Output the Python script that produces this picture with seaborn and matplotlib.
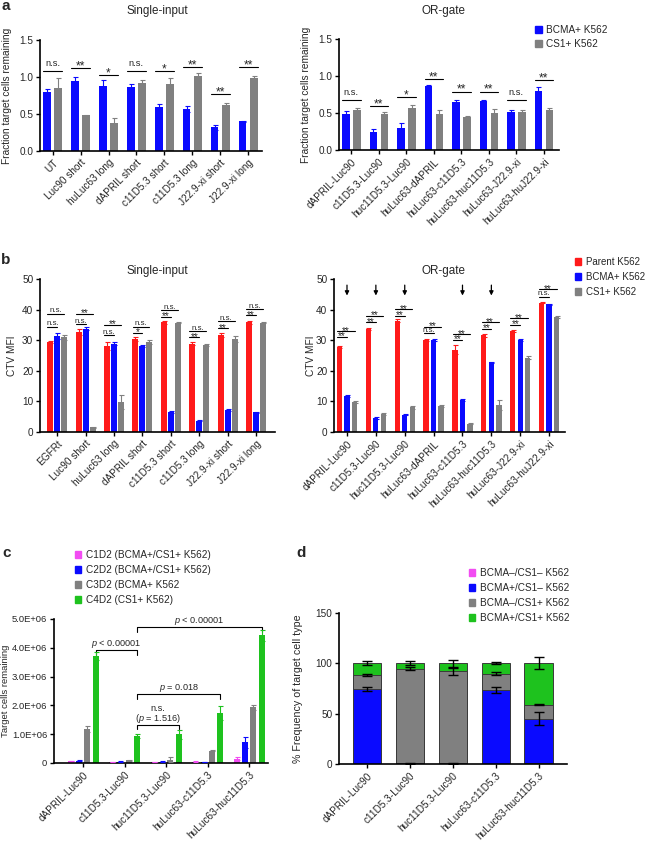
import numpy as np
import pandas as pd
import matplotlib
matplotlib.use("Agg")
import matplotlib.pyplot as plt
import seaborn as sns
from matplotlib.patches import Patch

sns.set_style("ticks")
plt.rcParams["font.family"] = ["Liberation Sans", "DejaVu Sans"]
plt.rcParams["mathtext.fontset"] = "custom"
plt.rcParams["mathtext.it"] = "Liberation Sans:italic"
plt.rcParams["mathtext.rm"] = "Liberation Sans"

# ---------------- data ----------------
BLUE, GRAY, RED, GREEN, MAGENTA = "#0a0aff", "#808080", "#ff1a1a", "#1ec21e", "#f24cf2"

# panel a, single-input
a1_cats = ["UT", "Luc90 short", "huLuc63 long", "dAPRIL short", "c11D5.3 short",
           "c11D5.3 long", "J22.9-xi short", "J22.9-xi long"]
a1_bcma = [0.80, 0.94, 0.88, 0.86, 0.60, 0.57, 0.32, 0.40]
a1_bcma_err = [0.04, 0.06, 0.08, 0.05, 0.03, 0.04, 0.03, 0.01]
a1_cs1 = [0.85, 0.48, 0.38, 0.92, 0.90, 1.01, 0.62, 0.99]
a1_cs1_err = [0.13, 0.01, 0.06, 0.04, 0.08, 0.04, 0.03, 0.03]
a1_sig = ["n.s.", "**", "*", "n.s.", "*", "**", "**", "**"]
a1_sig_y = [1.08, 1.12, 1.03, 1.08, 1.08, 1.13, 0.77, 1.13]

# panel a, OR-gate
a2_cats = ["dAPRIL-Luc90", "c11D5.3-Luc90", "huc11D5.3-Luc90", "huLuc63-dAPRIL",
           "huLuc63-c11D5.3", "huLuc63-huc11D5.3", "huLuc63-J22.9-xi", "huLuc63-huJ22.9-xi"]
a2_bcma = [0.48, 0.24, 0.30, 0.87, 0.65, 0.66, 0.51, 0.80]
a2_bcma_err = [0.05, 0.05, 0.06, 0.01, 0.02, 0.02, 0.03, 0.05]
a2_cs1 = [0.54, 0.49, 0.57, 0.49, 0.45, 0.50, 0.51, 0.54]
a2_cs1_err = [0.03, 0.02, 0.04, 0.05, 0.01, 0.06, 0.03, 0.03]
a2_sig = ["n.s.", "**", "*", "**", "**", "**", "n.s.", "**"]
a2_sig_y = [0.68, 0.59, 0.71, 0.96, 0.79, 0.79, 0.68, 0.95]

# panel b, single-input
b1_cats = ["EGFRt", "Luc90 short", "huLuc63 long", "dAPRIL short", "c11D5.3 short",
           "c11D5.3 long", "J22.9-xi short", "J22.9-xi long"]
b1_parent = [29.4, 32.7, 28.2, 30.5, 35.9, 28.9, 31.7, 35.9]
b1_parent_err = [0.4, 1.0, 1.3, 0.7, 0.5, 0.6, 0.8, 0.5]
b1_bcma = [31.3, 33.8, 28.9, 28.0, 6.4, 3.7, 7.2, 6.4]
b1_bcma_err = [1.0, 0.6, 0.5, 0.3, 0.3, 0.2, 0.2, 0.2]
b1_cs1 = [31.0, 1.5, 9.8, 29.4, 35.7, 28.4, 30.4, 35.7]
b1_cs1_err = [0.8, 0.2, 2.3, 0.6, 0.2, 0.3, 1.0, 0.2]
b1_sig_up = ["n.s.", "**", "**", "n.s.", "n.s.", "n.s.", "n.s.", "n.s."]
b1_sig_up_y = [38.6, 38.6, 35.0, 34.4, 39.9, 33.0, 36.3, 40.2]
b1_sig_lo = ["n.s.", "n.s.", "n.s.", "*", "**", "**", "**", "**"]
b1_sig_lo_y = [34.4, 35.2, 31.7, 32.4, 37.7, 30.9, 33.9, 38.2]

# panel b, OR-gate
b2_cats = a2_cats
b2_parent = [27.9, 33.6, 36.4, 30.0, 26.9, 31.6, 33.1, 42.3]
b2_parent_err = [0.3, 0.3, 0.4, 0.4, 1.5, 0.4, 0.3, 0.3]
b2_bcma = [11.8, 4.5, 5.6, 30.0, 10.4, 22.8, 30.1, 41.7]
b2_bcma_err = [0.4, 0.3, 0.2, 0.3, 0.3, 0.2, 0.3, 0.2]
b2_cs1 = [9.9, 5.8, 8.1, 8.4, 2.7, 8.8, 24.2, 37.7]
b2_cs1_err = [0.3, 0.3, 0.5, 0.3, 0.2, 1.5, 0.5, 0.3]
b2_sig_up = ["**", "**", "**", "**", "**", "**", "**", "**"]
b2_sig_up_y = [33.0, 38.0, 40.1, 34.4, 32.0, 35.8, 37.1, 46.6]
b2_sig_lo = ["**", "**", "**", "n.s.", "**", "**", "**", "n.s."]
b2_sig_lo_y = [31.2, 35.8, 38.0, 32.2, 30.1, 33.7, 35.0, 44.2]
b2_arrow_groups = [0, 1, 2, 4, 5]

# panel c
c_cats = ["dAPRIL-Luc90", "c11D5.3-Luc90", "huc11D5.3-Luc90", "huLuc63-c11D5.3", "huLuc63-huc11D5.3"]
c_series = ["C1D2 (BCMA+/CS1+ K562)", "C2D2 (BCMA+/CS1+ K562)", "C3D2 (BCMA+ K562", "C4D2 (CS1+ K562)"]
c_c1d2 = [0.07e6, 0.04e6, 0.04e6, 0.05e6, 0.15e6]
c_c1d2_err = [0.01e6, 0.01e6, 0.01e6, 0.01e6, 0.06e6]
c_c2d2 = [0.08e6, 0.05e6, 0.05e6, 0.04e6, 0.72e6]
c_c2d2_err = [0.01e6, 0.01e6, 0.01e6, 0.01e6, 0.20e6]
c_c3d2 = [1.18e6, 0.10e6, 0.12e6, 0.43e6, 1.93e6]
c_c3d2_err = [0.10e6, 0.02e6, 0.08e6, 0.02e6, 0.08e6]
c_c4d2 = [3.72e6, 0.93e6, 1.00e6, 1.73e6, 4.43e6]
c_c4d2_err = [0.15e6, 0.07e6, 0.15e6, 0.25e6, 0.20e6]

# panel d (percent of each type, stacked bottom -> top)
d_cats = c_cats
d_series = ["BCMA\u2013/CS1\u2013 K562", "BCMA+/CS1\u2013 K562", "BCMA\u2013/CS1+ K562", "BCMA+/CS1+ K562"]
d_neg = [0.3, 0.3, 0.3, 0.3, 0.5]
d_bcma = [74.0, 0.4, 0.4, 73.2, 44.5]
d_cs1 = [14.0, 94.0, 91.5, 16.3, 14.0]
d_dbl = [11.7, 5.3, 7.8, 10.2, 41.0]
d_bcma_err = [2.0, 0.5, 0.5, 2.5, 6.5]
d_cs1_err = [0.7, 1.5, 3.5, 1.5, 0.7]
d_dbl_err = [2.0, 2.0, 3.5, 1.0, 6.0]

# ---------------- figure ----------------
W, H = 646, 841
fig = plt.figure(figsize=(W / 100, H / 100), dpi=100)
FS = 7.2
LFS = 7.2


def add_ax(x0, x1, ytop, ybot):
    return fig.add_axes([x0 / W, 1 - ybot / H, (x1 - x0) / W, (ybot - ytop) / H])


def style(ax, xlim, ylim, yticks, ytl, ylabel, lab_px, ax_x0, ax_w, lab_fs=7.3, ytfs=FS):
    ax.set_xlim(*xlim)
    ax.set_ylim(*ylim)
    ax.set_yticks(yticks)
    ax.set_yticklabels(ytl, fontsize=ytfs)
    sns.despine(ax=ax)
    for s in ("left", "bottom"):
        ax.spines[s].set_linewidth(1.2)
        ax.spines[s].set_color("black")
    ax.tick_params(axis="both", direction="out", length=3.2, width=1.0, color="black", pad=1.6)
    plt.setp(ax.get_xticklabels(), rotation=45, ha="right", rotation_mode="anchor", fontsize=FS)
    ax.set_xlabel("")
    ax.set_ylabel(ylabel, fontsize=lab_fs)
    ax.yaxis.set_label_coords((lab_px - ax_x0) / ax_w, 0.5)


def grouped(ax, cats, names, vals, errs, colors, width, gap, capsize=1.8):
    rows = []
    for n, v in zip(names, vals):
        for c, y in zip(cats, v):
            rows.append({"construct": c, "target": n, "value": y})
    df = pd.DataFrame(rows)
    sns.barplot(data=df, x="construct", y="value", hue="target", order=cats, hue_order=names,
                palette=colors, width=width, gap=gap, errorbar=None, legend=False,
                saturation=1, linewidth=0, ax=ax)
    conts = list(ax.containers)
    for cont, e, col in zip(conts, errs, colors):
        for p, ee in zip(cont.patches, e):
            x = p.get_x() + p.get_width() / 2
            ax.errorbar(x, p.get_height(), yerr=ee, color=col, capsize=capsize,
                        elinewidth=0.8, capthick=0.8, zorder=3)
    return conts


def sig(ax, x0, x1, y, txt, ns_fs, st_fs, off_ns, off_st):
    ax.plot([x0, x1], [y, y], color="black", lw=0.8, clip_on=False, zorder=4)
    isns = "n" in txt
    ax.annotate(txt, ((x0 + x1) / 2, y), xytext=(0, off_ns if isns else off_st),
                textcoords="offset points", ha="center", va="baseline",
                fontsize=ns_fs if isns else st_fs, annotation_clip=False)


def legend(handles, labels, x, y, fs=LFS, tp=0.5, ls=0.5, hl=0.65):
    fig.legend(handles=handles, labels=labels, loc="upper left",
               bbox_to_anchor=(x / W, 1 - y / H), frameon=False, fontsize=fs,
               handlelength=hl, handleheight=hl, handletextpad=tp, labelspacing=ls,
               borderpad=0, borderaxespad=0)


# ---- panel a left
ax = add_ax(40, 262, 40, 151)
conts = grouped(ax, a1_cats, ["BCMA+ K562", "CS1+ K562"], [a1_bcma, a1_cs1],
                [a1_bcma_err, a1_cs1_err], [BLUE, GRAY], 0.8, 0.34)
style(ax, (-0.45, 7.49), (0, 1.5), [0, 0.5, 1.0, 1.5], ["0.0", "0.5", "1.0", "1.5"],
      "Fraction target cells remaining", 12.5, 40, 222)
for i, (t, y) in enumerate(zip(a1_sig, a1_sig_y)):
    sig(ax, i - 0.34, i + 0.34, y, t, 6.7, 8.6, 3.4, -1.0)

# ---- panel a right
ax = add_ax(339, 559, 39, 150)
conts = grouped(ax, a2_cats, ["BCMA+ K562", "CS1+ K562"], [a2_bcma, a2_cs1],
                [a2_bcma_err, a2_cs1_err], [BLUE, GRAY], 0.8, 0.34)
style(ax, (-0.45, 7.55), (0, 1.5), [0, 0.5, 1.0, 1.5], ["0.0", "0.5", "1.0", "1.5"],
      "Fraction target cells remaining", 311, 339, 220)
for i, (t, y) in enumerate(zip(a2_sig, a2_sig_y)):
    sig(ax, i - 0.34, i + 0.34, y, t, 6.7, 8.6, 3.4, -1.0)
legend([Patch(color=BLUE), Patch(color=GRAY)], ["BCMA+ K562", "CS1+ K562"], 535, 25, ls=0.38)

# ---- panel b left
ax = add_ax(40, 275, 279, 432)
w3 = 0.74
conts = grouped(ax, b1_cats, ["Parent K562", "BCMA+ K562", "CS1+ K562"],
                [b1_parent, b1_bcma, b1_cs1], [b1_parent_err, b1_bcma_err, b1_cs1_err],
                [RED, BLUE, GRAY], w3, 0.15)
style(ax, (-0.61, 7.67), (0, 50), [0, 10, 20, 30, 40, 50], ["0", "10", "20", "30", "40", "50"],
      "CTV MFI", 17.5, 40, 235)
o = w3 / 3
for i in range(len(b1_cats)):
    sig(ax, i - o - 0.1, i + o, b1_sig_up_y[i], b1_sig_up[i], 5.7, 7.2, 1.0, -1.9)
    sig(ax, i - o - 0.1, i, b1_sig_lo_y[i], b1_sig_lo[i], 5.7, 7.2, 1.0, -1.9)

# ---- panel b right
ax = add_ax(334, 565, 279, 432)
conts = grouped(ax, b2_cats, ["Parent K562", "BCMA+ K562", "CS1+ K562"],
                [b2_parent, b2_bcma, b2_cs1], [b2_parent_err, b2_bcma_err, b2_cs1_err],
                [RED, BLUE, GRAY], 0.78, 0.3)
style(ax, (-0.45, 7.55), (0, 50), [0, 10, 20, 30, 40, 50], ["0", "10", "20", "30", "40", "50"],
      "CTV MFI", 315.5, 334, 231)
o = 0.78 / 3
for i in range(len(b2_cats)):
    sig(ax, i - o - 0.08, i + o, b2_sig_up_y[i], b2_sig_up[i], 5.7, 7.2, 1.0, -1.9)
    sig(ax, i - o - 0.08, i, b2_sig_lo_y[i], b2_sig_lo[i], 5.7, 7.2, 1.0, -1.9)
for g in b2_arrow_groups:
    ax.annotate("", xy=(g, 44.6), xytext=(g, 48.0),
                arrowprops=dict(arrowstyle="-|>", lw=0.9, color="black", mutation_scale=6,
                                shrinkA=0, shrinkB=0), annotation_clip=False)
legend([Patch(color=RED), Patch(color=BLUE), Patch(color=GRAY)],
       ["Parent K562", "BCMA+ K562", "CS1+ K562"], 575, 257, fs=7.0, tp=0.45)

# ---- panel c
ax = add_ax(54, 268, 619, 763)
ccol = [MAGENTA, BLUE, GRAY, GREEN]
conts = grouped(ax, c_cats, c_series, [c_c1d2, c_c2d2, c_c3d2, c_c4d2],
                [c_c1d2_err, c_c2d2_err, c_c3d2_err, c_c4d2_err], ccol, 0.8, 0.28)
style(ax, (-0.70, 4.45), (0, 5e6), [0, 1e6, 2e6, 3e6, 4e6, 5e6],
      ["0", "1.0E+06", "2.0E+06", "3.0E+06", "4.0E+06", "5.0E+06"],
      "Target cells remaining", 10.5, 54, 214, lab_fs=6.8, ytfs=6.8)
gx = [p.get_x() + p.get_width() / 2 for p in conts[3].patches]


def bracket(x0, x1, y, tick, lines):
    ax.plot([x0, x0, x1, x1], [y - tick, y, y, y - tick], color="black", lw=0.8, clip_on=False)
    for k, t in enumerate(lines[::-1]):
        ax.annotate(t, ((x0 + x1) / 2, y), xytext=(0, 3 + k * 7.3), textcoords="offset points",
                    ha="center", va="baseline", fontsize=6.6, annotation_clip=False)


bracket(gx[0], gx[1], 3.92e6, 0.17e6, ["$p$ < 0.00001"])
bracket(gx[1], gx[4], 4.73e6, 0.17e6, ["$p$ < 0.00001"])
bracket(gx[1], gx[3], 2.38e6, 0.16e6, ["$p$ = 0.018"])
bracket(gx[1], gx[2], 1.32e6, 0.15e6, ["n.s.", "($p$ = 1.516)"])
legend([Patch(color=c) for c in ccol], c_series, 75, 550, hl=0.6, tp=0.55)

# ---- panel d (stacked, drawn as cumulative layers)
ax = add_ax(339, 567, 613, 764)
cum1 = np.array(d_neg)
cum2 = cum1 + np.array(d_bcma)
cum3 = cum2 + np.array(d_cs1)
cum4 = cum3 + np.array(d_dbl)
dcol = [MAGENTA, BLUE, GRAY, GREEN]
for cum, col in zip([cum4, cum3, cum2, cum1], [GREEN, GRAY, BLUE, MAGENTA]):
    sns.barplot(x=d_cats, y=cum, order=d_cats, color=col, saturation=1, width=0.66,
                errorbar=None, edgecolor="#3a3a3a", linewidth=0.7, ax=ax)
xs = np.arange(len(d_cats))
for cum, err in zip([cum2, cum3, cum4], [d_bcma_err, d_cs1_err, d_dbl_err]):
    ax.errorbar(xs, cum, yerr=err, fmt="none", ecolor="black", capsize=3.6,
                elinewidth=1.0, capthick=1.0, zorder=5)
style(ax, (-0.65, 4.66), (0, 150), [0, 50, 100, 150], ["0", "50", "100", "150"],
      "% Frequency of target cell type", 303.5, 339, 228, lab_fs=7.7)
legend([Patch(color=c) for c in dcol], d_series, 469, 568)

# ---- titles and panel letters
for x, y, t in [(157, 11, "Single-input"), (443, 11, "OR-gate"),
                (157, 271, "Single-input"), (443, 271, "OR-gate")]:
    fig.text(x / W, 1 - y / H, t, ha="center", va="center", fontsize=8.4)
for x, y, t in [(1, 6, "a"), (1, 260, "b"), (2, 553, "c"), (296, 553, "d")]:
    fig.text(x / W, 1 - y / H, t, ha="left", va="center", fontsize=11, fontweight="bold")

fig.savefig("out.png", dpi=100)
